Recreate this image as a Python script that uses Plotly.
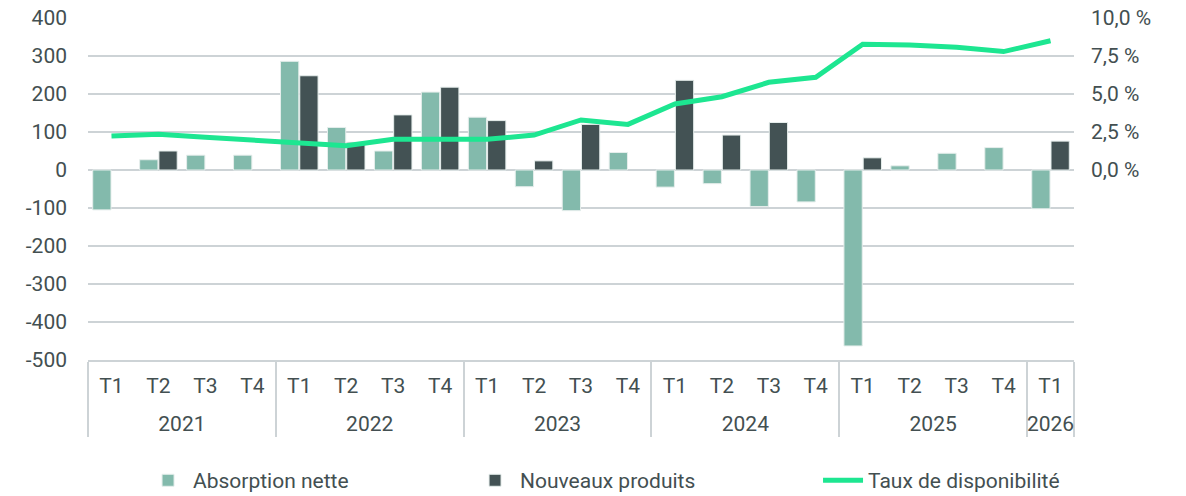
import plotly.graph_objects as go

years = ["2021"] * 4 + ["2022"] * 4 + ["2023"] * 4 + ["2024"] * 4 + ["2025"] * 4 + ["2026"]
quarters = ["T1", "T2", "T3", "T4"] * 5 + ["T1"]

absorption = [-105, 27, 39, 39, 286, 112, 50, 205, 139, -44, -107, 46,
              -45, -36, -96, -84, -463, 11, 44, 59, -102]
nouveaux = [None, 50, None, None, 248, 73, 145, 218, 130, 24, 120, None,
            236, 92, 125, None, 32, None, None, None, 76]
taux = [2.24, 2.35, 2.15, 1.97, 1.75, 1.6, 2.02, 2.04, 2.02, 2.3, 3.29, 3.0,
        4.34, 4.82, 5.77, 6.1, 8.27, 8.22, 8.07, 7.79, 8.5]

left_ticks = [-500, -400, -300, -200, -100, 0, 100, 200, 300, 400]
left_text = ["-500", "-400", "-300", "-200", "-100", "0", "100", "200", "300", "400"]
right_ticks = [0, 2.5, 5, 7.5, 10]
right_text = ["0,0 %", "2,5 %", "5,0 %", "7,5 %", "10,0 %"]

C_ABS = "#83BAAC"
C_NEW = "#435254"
C_LINE = "#1DE691"
C_TEXT = "#434F51"
C_GRID = "#CDD3D6"
FONT = "Roboto"
FS = 21

# invisible taller spacers around the quarter labels push the year row lower
pad = "<span style='font-size:36px'>\u00a0</span>"
quarter_labels = [pad + q + pad for q in quarters]
x = [years, quarter_labels]

fig = go.Figure()
fig.add_trace(go.Bar(x=x, y=absorption, name="Absorption nette", legendwidth=272,
                     marker=dict(color=C_ABS, line=dict(color="#E6EEEC", width=1))))
fig.add_trace(go.Bar(x=x, y=nouveaux, name="Nouveaux produits", legendwidth=293,
                     marker=dict(color=C_NEW, line=dict(color="#E6EEEC", width=1))))
fig.add_trace(go.Scatter(x=x, y=taux, name="Taux de disponibilité", yaxis="y2",
                         legendwidth=215,
                         mode="lines", line=dict(color=C_LINE, width=5)))

fig.update_layout(
    width=1186, height=496,
    margin=dict(l=88, r=112, t=18, b=136, autoexpand=False),
    paper_bgcolor="white", plot_bgcolor="white",
    font=dict(family=FONT, size=FS, color=C_TEXT),
    barmode="group", bargap=0.18, bargroupgap=0.05,
    showlegend=True,
    legend=dict(orientation="h", xref="container", yref="container",
                x=0.1206, xanchor="left", y=0.031, yanchor="middle",
                font=dict(family=FONT, size=FS, color=C_TEXT), itemwidth=40),
    xaxis=dict(type="multicategory", showgrid=False, showline=True, linecolor=C_GRID,
               linewidth=2, showdividers=True, dividercolor=C_GRID, dividerwidth=2,
               tickfont=dict(family=FONT, size=FS, color=C_TEXT), ticks="",
               tickangle=0, ticklabelstandoff=6, automargin=False),
    yaxis=dict(range=[-500, 400], tickvals=left_ticks, ticktext=left_text,
               showgrid=True, gridcolor=C_GRID, gridwidth=2, zeroline=True,
               zerolinecolor=C_GRID, zerolinewidth=2, ticks="", ticklabelstandoff=20,
               tickfont=dict(family=FONT, size=FS, color=C_TEXT), automargin=False),
    yaxis2=dict(range=[-12.5, 10], overlaying="y", side="right", tickvals=right_ticks,
                ticktext=right_text, showgrid=False, zeroline=False, ticks="",
                ticklabelstandoff=16, automargin=False,
                tickfont=dict(family=FONT, size=FS, color=C_TEXT)),
)

fig.write_html("out.html", config={"displayModeBar": False},
               post_script="document.body.style.margin='0';")
